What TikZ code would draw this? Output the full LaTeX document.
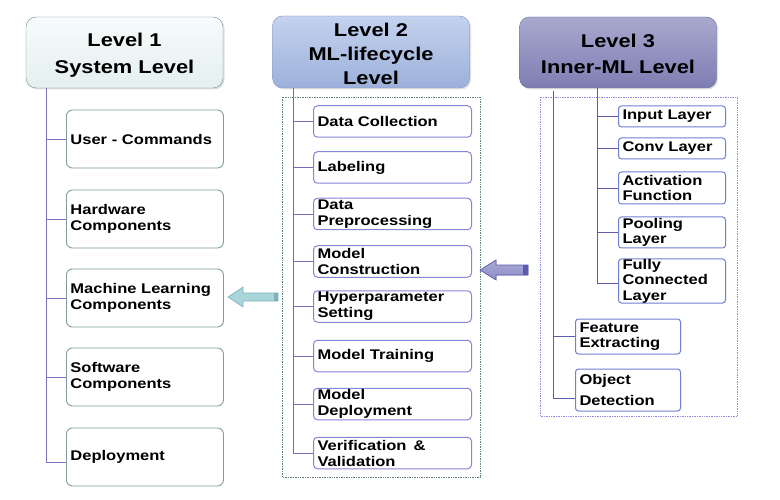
\documentclass[tikz,border=0pt]{standalone}
\usepackage{fontspec}
\newfontfamily\lf[FakeStretch=1.18]{Liberation Sans}
\usetikzlibrary{shadows}
\definecolor{hOneTop}{HTML}{F7FBFB}
\definecolor{hOneBot}{HTML}{E4EFEF}
\definecolor{hOneDraw}{HTML}{6E8A8A}
\definecolor{hTwoTop}{HTML}{C3D2EE}
\definecolor{hTwoBot}{HTML}{9CB0DA}
\definecolor{hTwoDraw}{HTML}{8494C8}
\definecolor{hThreeTop}{HTML}{A9A9CF}
\definecolor{hThreeBot}{HTML}{7D7DB2}
\definecolor{hThreeDraw}{HTML}{6A6A9E}
\definecolor{bOne}{HTML}{7E9E9E}
\definecolor{bTwo}{HTML}{8686D6}
\definecolor{bThree}{HTML}{6F7FCF}
\definecolor{lnOne}{HTML}{8070C0}
\definecolor{lnTwo}{HTML}{6C6CB8}
\definecolor{lnThree}{HTML}{5C5CB0}
\definecolor{dashTwo}{HTML}{5E8080}
\definecolor{dashThree}{HTML}{8C8CE0}
\definecolor{arrL}{HTML}{A8D6DA}
\definecolor{arrLd}{HTML}{7FB0B8}
\definecolor{arrR}{HTML}{8E8ECE}
\definecolor{arrRd}{HTML}{5A5AAE}
\tikzset{
  hdr/.style={rounded corners=10pt, minimum width=197, minimum height=71,
    drop shadow={opacity=0.25, shadow xshift=1.5pt, shadow yshift=-1.5pt}},
  hdrtext/.style={align=center, text=black, inner sep=0,
    font=\lf\bfseries\fontsize{18.5}{26}\selectfont},
  boxone/.style={draw=bOne, line width=0.9pt, fill=white, rounded corners=6pt,
    minimum height=58, text width=149, inner xsep=4, inner ysep=0,
    align=left, anchor=west, font=\lf\bfseries\fontsize{14}{16}\selectfont},
  boxtwo/.style={draw=bTwo, line width=1pt, fill=white, rounded corners=4pt,
    minimum height=31.5, text width=150, inner xsep=4, inner ysep=0,
    align=left, anchor=west, font=\lf\bfseries\fontsize{14}{16}\selectfont},
  boxthree/.style={draw=bThree, line width=1pt, fill=white, rounded corners=3pt,
    text width=99, inner xsep=4, inner ysep=0,
    align=left, anchor=west, font=\lf\bfseries\fontsize{14}{15.5}\selectfont},
  treeone/.style={draw=lnOne, line width=0.9pt},
  treetwo/.style={draw=lnTwo, line width=0.9pt},
  treethree/.style={draw=lnThree, line width=0.9pt},
}
\begin{document}
\begin{tikzpicture}[x=1pt,y=-1pt]
\useasboundingbox (0,0) rectangle (780,500);

% dashed frames
\draw[dashTwo, densely dotted, line width=0.7pt] (282,97) rectangle (480,477);
\draw[dashThree, densely dotted, line width=0.7pt] (540,97) rectangle (737,416);

% headers
\node[hdr, draw=hOneDraw, top color=hOneTop, bottom color=hOneBot] (h1) at (124.5,52.5) {};
\node[hdrtext, font=\lf\bfseries\fontsize{18.5}{27}\selectfont] (h1t) at (124.5,55.5)
  {Level 1\\System Level};
\node[hdr, draw=hTwoDraw, top color=hTwoTop, bottom color=hTwoBot, minimum height=72] (h2) at (371,52) {};
\node[hdrtext, font=\lf\bfseries\fontsize{18.5}{24}\selectfont] (h2t) at (371,54)
  {Level 2\\ML-lifecycle\\Level};
\node[hdr, draw=hThreeDraw, top color=hThreeTop, bottom color=hThreeBot] (h3) at (618,52.5) {};
\node[hdrtext] (h3t) at (618,53.5) {Level 3\\Inner-ML Level};

% level 1 boxes
\node[boxone] (u1) at (66,139) {User - Commands};
\node[boxone] (u2) at (66,219) {Hardware\\Components};
\node[boxone] (u3) at (66,298) {Machine Learning\\Components};
\node[boxone] (u4) at (66,377) {Software\\Components};
\node[boxone] (u5) at (66,457) {Deployment};

% level 2 boxes
\node[boxtwo] (m1) at (313,121.5) {Data Collection};
\node[boxtwo] (m2) at (313,167.5) {Labeling};
\node[boxtwo] (m3) at (313,214) {Data\\Preprocessing};
\node[boxtwo] (m4) at (313,261.5) {Model\\Construction};
\node[boxtwo] (m5) at (313,306.5) {Hyperparameter\\Setting};
\node[boxtwo] (m6) at (313,356) {Model Training};
\node[boxtwo] (m7) at (313,404) {Model\\Deployment};
\node[boxtwo] (m8) at (313,453) {Verification \,\&\\Validation};

% level 3 inner boxes
\node[boxthree, minimum height=21] (n1) at (618,116.5) {Input Layer};
\node[boxthree, minimum height=21] (n2) at (618,148.5) {Conv Layer};
\node[boxthree, minimum height=32] (n3) at (618,188) {Activation\\Function};
\node[boxthree, minimum height=31] (n4) at (618,232.5) {Pooling\\Layer};
\node[boxthree, minimum height=44] (n5) at (618,281) {Fully\\Connected\\Layer};
\node[boxthree, minimum height=35, text width=97] (o1) at (575,336.5) {Feature\\Extracting};
\node[boxthree, minimum height=42, text width=97] (o2) at (575,390) {Object\\[5pt]Detection};

% tree lines level 1
\coordinate (e1) at (46,462);
\path[treeone] (h1.south -| e1) -- (e1);
\foreach \b in {u1,u2,u3,u4} \path[treeone] (\b.west -| e1) -- (\b.west);
\path[treeone] (e1) -- (e1 -| u5.west);

% tree lines level 2
\coordinate (e2) at (293,453);
\path[treetwo] (h2.south -| e2) -- (e2);
\foreach \b in {m1,m2,m3,m4,m5,m6,m7,m8} \path[treetwo] (\b.west -| e2) -- (\b.west);

% tree lines level 3
\coordinate (e3) at (597,283);
\path[treethree] (h3.south -| e3) -- (e3);
\foreach \b in {n1,n2,n3,n4} \path[treethree] (\b.west -| e3) -- (\b.west);
\path[treethree] (e3) -- (e3 -| n5.west);
\coordinate (s4) at (553,91);
\coordinate (e4) at (553,398);
\path[treethree] (s4) -- (e4);
\path[treethree] (o1.west -| e4) -- (o1.west);
\path[treethree] (e4) -- (e4 -| o2.west);

% block arrows
\filldraw[fill=arrL, draw=arrLd, line width=0.6pt]
  (228,297) -- (243,287) -- (243,293) -- (278,293) -- (278,301) -- (243,301) -- (243,307) -- cycle;
\fill[arrLd] (274,293.3) rectangle (277.7,300.7);
\filldraw[top color=hThreeTop, bottom color=arrR, draw=arrRd, line width=0.6pt]
  (480,270) -- (496,260) -- (496,265) -- (528,265) -- (528,275) -- (496,275) -- (496,280) -- cycle;
\fill[arrRd] (523,265.3) rectangle (527.7,274.7);
\end{tikzpicture}
\end{document}
